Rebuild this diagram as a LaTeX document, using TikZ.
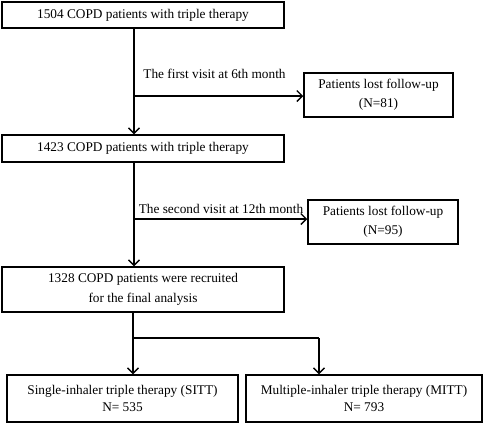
\documentclass[tikz,border=0pt]{standalone}
\usepackage{fontspec}
\setmainfont{Liberation Serif}
\usetikzlibrary{arrows.meta}
\begin{document}
\begin{tikzpicture}[x=1pt,y=-1pt,
  box/.style={draw, line width=1.5pt, inner sep=0pt, align=center, font=\fontsize{13.3}{19}\selectfont},
  lbl/.style={inner sep=0pt, font=\fontsize{13.3}{16}\selectfont},
  conn/.style={line width=1.4pt},
  arr/.style={conn, -{Straight Barb[length=5.5pt,width=11pt,line width=1.4pt]}}]
\useasboundingbox (0,0) rectangle (484,424);
\node[box, minimum width=282pt, minimum height=26pt] (b1) at (143,15) {1504 COPD patients with triple therapy};
\node[box, minimum width=149pt, minimum height=44pt] (l1) at (378.5,95) {Patients lost follow-up\\(N=81)};
\node[box, minimum width=282pt, minimum height=27pt] (b2) at (143,148.5) {1423 COPD patients with triple therapy};
\node[box, minimum width=150pt, minimum height=44pt] (l2) at (383,222) {Patients lost follow-up\\(N=95)};
\node[box, minimum width=282pt, minimum height=45pt, font=\fontsize{13.3}{20.5}\selectfont] (b3) at (143,289.5) {1328 COPD patients were recruited\\for the final analysis};
\node[box, minimum width=231pt, minimum height=47pt, font=\fontsize{13.3}{16.5}\selectfont] (s) at (122.5,398.5) {Single-inhaler triple therapy (SITT)\\N= 535};
\node[box, minimum width=236pt, minimum height=47pt, font=\fontsize{13.3}{16.5}\selectfont] (m) at (364,398.5) {Multiple-inhaler triple therapy (MITT)\\N= 793};
\node[lbl] (t1) at (214.5,74) {The first visit at 6th month};
\node[lbl] (t2) at (221,209) {The second visit at 12th month};
\coordinate (j1) at (134,96);
\coordinate (j2) at (134,219);
\coordinate (j3) at (133,338);
\coordinate (j4) at (319,338);
\draw[arr] (b1.south -| j1) -- (b2.north -| j1);
\draw[arr] (j1) -- (j1 -| l1.west);
\draw[arr] (b2.south -| j2) -- (b3.north -| j2);
\draw[arr] (j2) -- (j2 -| l2.west);
\draw[conn] (b3.south -| j3) -- (j3) -- (j4);
\draw[arr] (j3) -- (j3 |- s.north);
\draw[arr] (j4) -- (j4 |- m.north);
\end{tikzpicture}
\end{document}
